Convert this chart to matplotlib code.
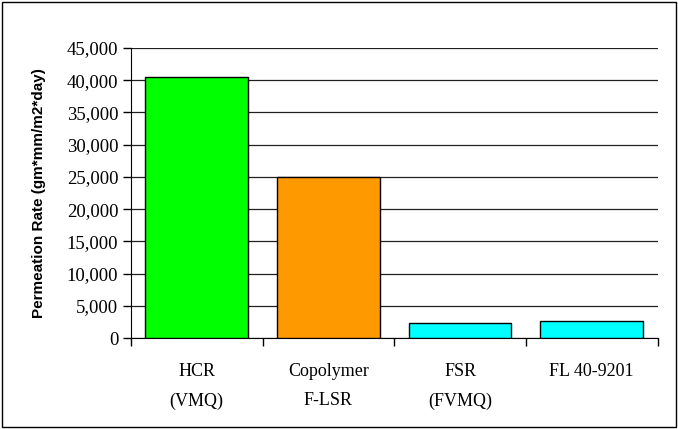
import matplotlib.pyplot as plt
import matplotlib.ticker as mticker
from matplotlib.patches import Rectangle
import numpy as np

# data
categories = ['HCR\n(VMQ)', 'Copolymer\nF-LSR', 'FSR\n(FVMQ)', 'FL 40-9201']
rates = [40500, 25000, 2300, 2700]
colors = ['#00FF00', '#FF9900', '#00FFFF', '#00FFFF']

fig = plt.figure(figsize=(6.78, 4.29), dpi=100)
ax = fig.add_axes([0.193, 0.212, 0.777, 0.676])

# outer frame around the whole chart
fig.patches.append(Rectangle((0.003, 0.004), 0.994, 0.992, transform=fig.transFigure,
                             fill=False, edgecolor='black', linewidth=1))

x = np.arange(len(categories))
ax.bar(x, rates, width=0.78, color=colors, edgecolor='black', linewidth=1, zorder=3)

ax.set_xlim(-0.5, len(categories) - 0.5)
ax.set_ylim(0, 45000)
ax.yaxis.set_major_locator(mticker.MultipleLocator(5000))
ax.yaxis.set_major_formatter(mticker.FuncFormatter(lambda v, p: f'{int(v):,}'))
ax.grid(axis='y', color='#202020', linewidth=0.9, zorder=0)

ax.set_xticks(x)
ax.set_xticklabels(categories, fontfamily='Liberation Serif', fontsize=13, linespacing=1.95)
ax.set_xticks(np.arange(-0.5, len(categories)), minor=True)
ax.tick_params(axis='x', which='major', length=0, pad=18)
ax.tick_params(axis='x', which='minor', length=6, direction='out', width=1)
ax.tick_params(axis='y', length=6, direction='out', width=1, pad=3)
for lab in ax.get_yticklabels():
    lab.set_fontfamily('Liberation Serif')
    lab.set_fontsize(13.5)

ax.set_ylabel('Permeation Rate (gm*mm/m2*day)', fontfamily='Liberation Sans',
              fontweight='bold', fontsize=11, labelpad=15)

ax.spines['top'].set_visible(False)
ax.spines['right'].set_visible(False)

plt.savefig('out.png', dpi=100)
